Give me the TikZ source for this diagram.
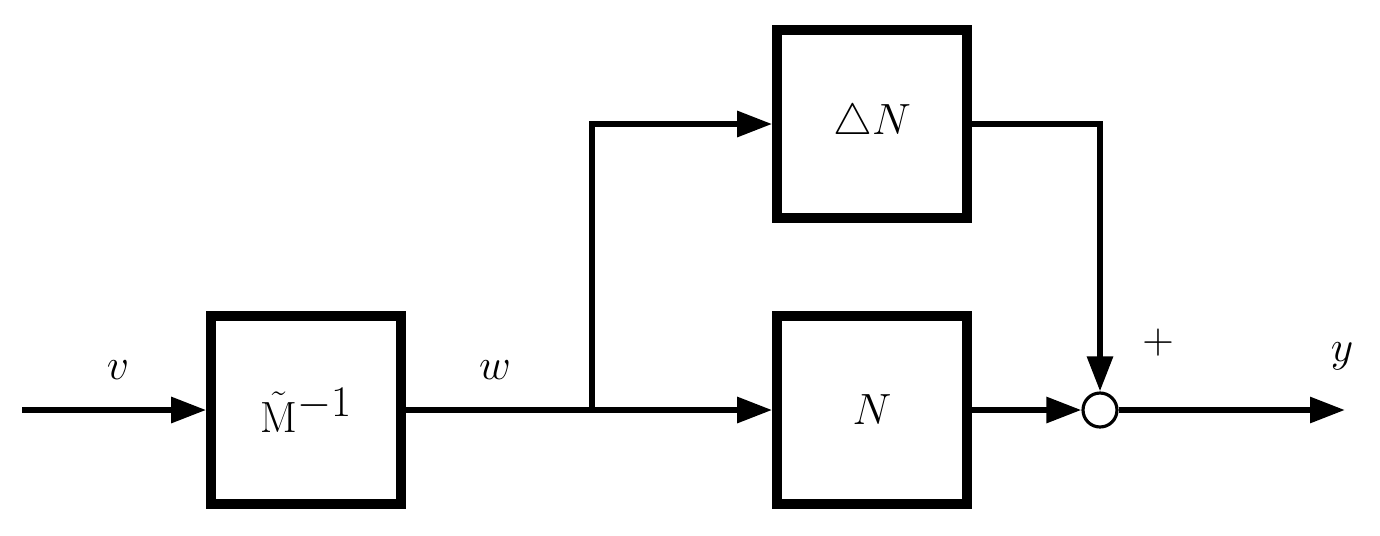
\documentclass[tikz,border=0pt]{standalone}
\usepackage{amssymb}
\usetikzlibrary{arrows.meta,positioning}

\begin{document}
\begin{tikzpicture}[x=0.02cm,y=-0.02cm,>={Triangle[length=0.7cm,width=0.5cm]},
    block/.style={draw,line width=5.5pt,minimum width=3.8cm,minimum height=3.75cm,inner sep=0pt,font=\fontsize{37}{44}\selectfont},
    sig/.style={line width=3.4pt},
    lbl/.style={font=\fontsize{37}{44}\selectfont}]
  \useasboundingbox (0,0) rectangle (1380,535);
  % Bloecke
  \node[block] (minv) at (306,410) {$\tilde{\mathrm{M}}^{-1}$};
  \node[block] (dn) at (872,124) {$\triangle N$};
  \node[block] (n) at (872,410) {$N$};
  \node[draw,circle,line width=1.8pt,minimum size=0.68cm,inner sep=0pt] (sum) at (1100,410) {};
  % Hilfspunkte
  \coordinate (in) at (22,410);
  \coordinate (br) at (592,410);
  \coordinate (out) at (1345,410);
  % Signale
  \draw[sig,->] (in) -- (minv);
  \draw[sig] (minv) -- (br);
  \draw[sig,->] (br) -- (n);
  \draw[sig,->] (br) |- (dn);
  \draw[sig,->] (dn.east) -| (sum.north);
  \draw[sig,->] (n) -- (sum);
  \draw[sig,->] (sum) -- (out);
  % Beschriftungen
  \node[lbl] (v) at (118,370) {$v$};
  \node[lbl] (w) at (495,370) {$w$};
  \node[lbl] (plus) at (1158,343) {$+$};
  \node[lbl] (y) at (1342,356) {$y$};
\end{tikzpicture}
\end{document}
